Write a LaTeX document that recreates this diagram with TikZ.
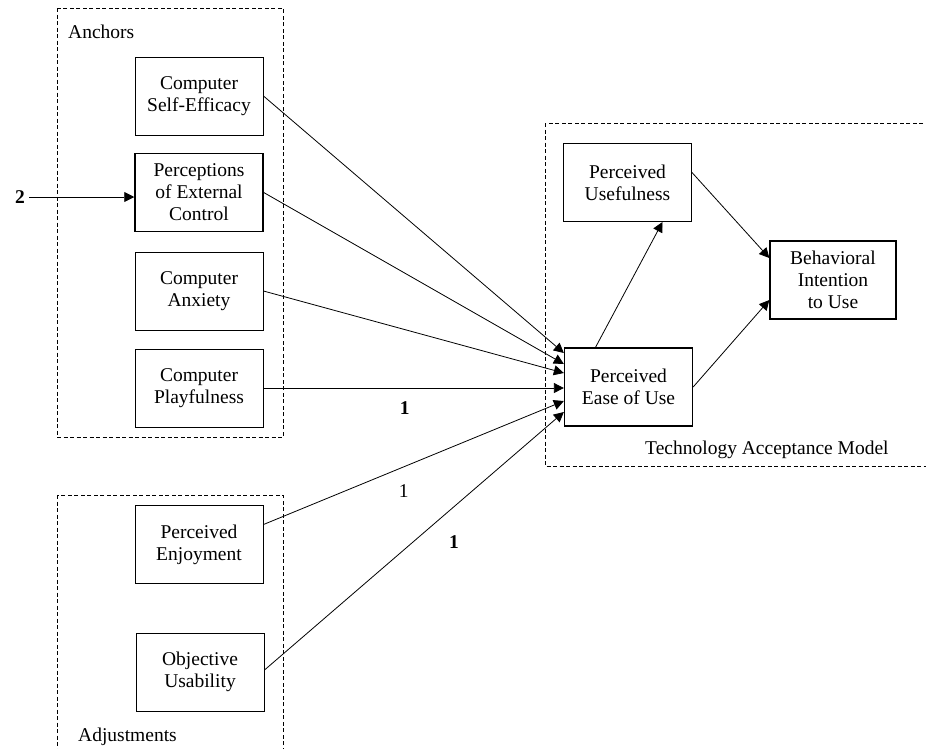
\documentclass[tikz,border=0pt]{standalone}
\usepackage{fontspec}
\setmainfont{Liberation Serif}
\usepackage{tikz}
\usetikzlibrary{calc,arrows.meta}

\begin{document}
\begin{tikzpicture}[x=1pt, y=-1pt,
    box/.style={draw, line width=1pt, align=center, minimum width=128pt,
                minimum height=78pt, inner sep=0pt,
                font=\fontsize{19.5}{22}\selectfont},
    group/.style={line width=1pt, dash pattern=on 4pt off 2.5pt},
    tag/.style={inner sep=0pt, font=\fontsize{19.5}{22}\selectfont},
    link/.style={line width=0.8pt, -{Triangle[length=10pt,width=10pt]}}]
\useasboundingbox (0,0) rectangle (926,748);
\clip (0,0) rectangle (926,748);

% dashed groups round the boxes
\draw[group] (57,8) rectangle (283,437);
\draw[group] (57,495) rectangle (283,780);
\draw[group] (545,123) rectangle (950,466);
\node[tag, anchor=west] (anchors) at (68,32) {Anchors};
\node[tag, anchor=west] (adjust) at (78,737) {Adjustments};
\node[tag, anchor=west] (tam) at (645,450) {Technology Acceptance Model};

\node[box] (CSE) at (199,96) {Computer\\Self-Efficacy};
\node[box, line width=1.5pt] (PEC) at (199,192.5) {Perceptions\\of External\\Control};
\node[box] (CA) at (199,291) {Computer\\Anxiety};
\node[box] (CP) at (199,388) {Computer\\Playfulness};
\node[box] (PE) at (199,544.5) {Perceived\\Enjoyment};
\node[box] (OU) at (200,672) {Objective\\Usability};

\node[box] (PU) at (627.5,182.5) {Perceived\\Usefulness};
\node[box, line width=1.3pt] (PEOU) at (628.5,387) {Perceived\\Ease of Use};
\node[box, line width=1.3pt, minimum width=126pt] (BI) at (833,280) {Behavioral\\Intention\\to Use};

\node[tag] (two) at (20,197) {\textbf{2}};
\draw[link, shorten <=4pt] (two.east) -- (PEC.west |- two.east);

\draw[link] (CSE.east) -- ($(PEOU.west)+(0,-34)$);
\draw[link] (PEC.east) -- ($(PEOU.west)+(0,-23)$);
\draw[link] (CA.east) -- ($(PEOU.west)+(0,-14)$);
\draw[link] (CP.east) -- node[tag, pos=0.47, below=13pt]{\textbf{1}} ($(PEOU.west)+(0,1)$);
\draw[link] ($(PE.east)+(0,-20)$) -- node[tag, pos=0.467, below=17pt]{1} ($(PEOU.west)+(0,14)$);
\draw[link] ($(OU.east)+(0,-2)$) -- node[tag, pos=0.633, below=29pt]{\textbf{1}} ($(PEOU.west)+(0,25)$);

\draw[link] ($(PEOU.north)+(-33,0)$) -- ($(PU.south)+(35,0)$);
\draw[link] ($(PU.east)+(0,-10)$) -- ($(BI.west)+(0,-22)$);
\draw[link] (PEOU.east) -- ($(BI.west)+(0,20)$);

\end{tikzpicture}
\end{document}
